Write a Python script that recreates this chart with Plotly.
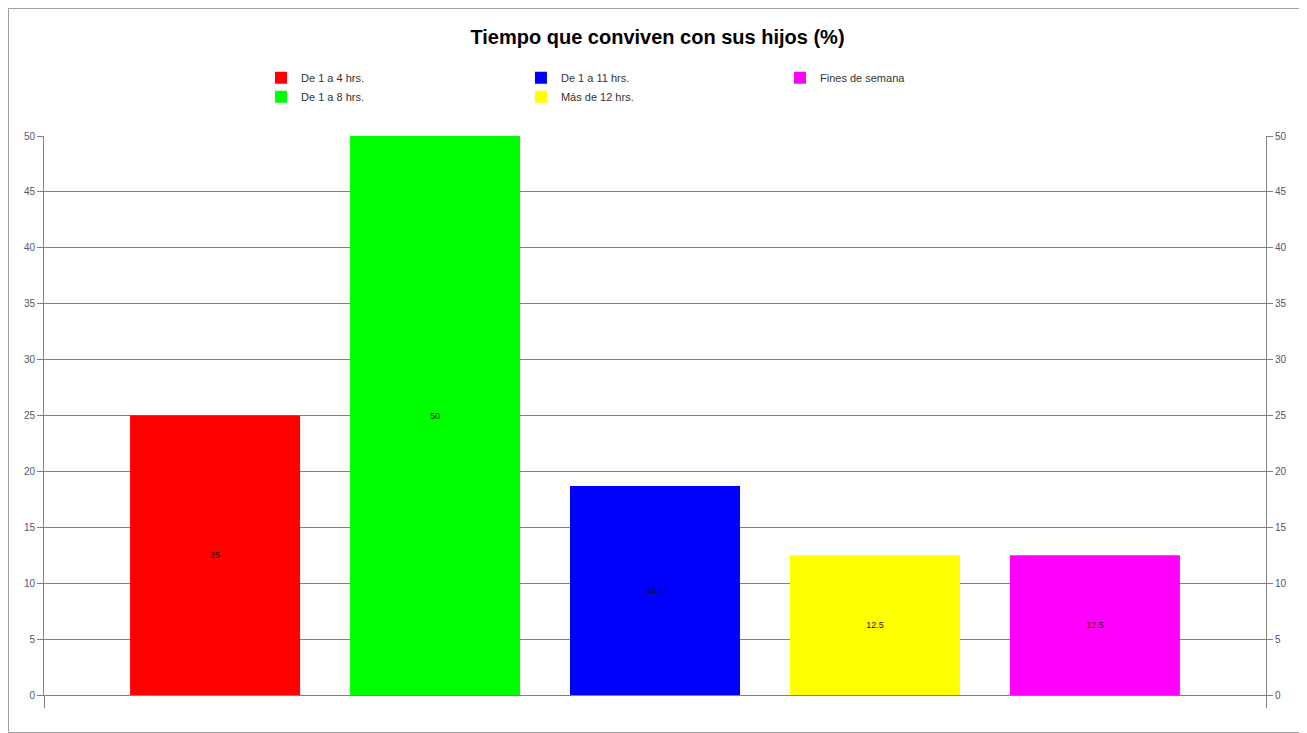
import plotly.graph_objects as go

# Datos
categorias = ["De 1 a 4 hrs.", "De 1 a 8 hrs.", "De 1 a 11 hrs.", "Más de 12 hrs.", "Fines de semana"]
valores = [25, 50, 18.7, 12.5, 12.5]
colores = ["#FF0000", "#00FF00", "#0000FF", "#FFFF00", "#FF00FF"]
leyendas = ["legend", "legend", "legend2", "legend2", "legend3"]
y_ticks = list(range(0, 51, 5))

fig = go.Figure()

for cat, val, col, leg in zip(categorias, valores, colores, leyendas):
    fig.add_trace(
        go.Bar(
            x=[""],
            y=[val],
            name=cat,
            marker=dict(color=col, line=dict(width=0)),
            text=[f"{val:g}"],
            textposition="inside",
            insidetextanchor="middle",
            textfont=dict(size=9, color="#111111", family="Liberation Sans"),
            legend=leg,
            hoverinfo="name+y",
        )
    )

# traza invisible para el eje derecho
fig.add_trace(
    go.Scatter(x=[""], y=[0], yaxis="y2", mode="markers",
               marker=dict(opacity=0), showlegend=False, hoverinfo="skip")
)

leg_style = dict(
    orientation="v",
    yanchor="top",
    y=1.13,
    xanchor="left",
    font=dict(size=11, color="#333333", family="Liberation Sans"),
    bgcolor="rgba(0,0,0,0)",
    tracegroupgap=0,
    itemwidth=30,
)

# la página tiene 8px de margen: la figura se ajusta a ello
fig.update_layout(
    width=1299,
    height=725,
    paper_bgcolor="white",
    plot_bgcolor="white",
    barmode="group",
    bargap=0.1,
    bargroupgap=0.227,
    margin=dict(l=36, r=41, t=128, b=38),
    title=dict(
        text="<b>Tiempo que conviven con sus hijos (%)</b>",
        x=0.5,
        xanchor="center",
        y=1 - 29 / 725,
        yanchor="middle",
        font=dict(size=20, color="black", family="Liberation Sans"),
    ),
    legend=dict(x=0.1776, **leg_style),
    legend2=dict(x=0.3903, **leg_style),
    legend3=dict(x=0.6023, **leg_style),
    xaxis=dict(
        showticklabels=False,
        showline=True,
        linecolor="#808080",
        linewidth=1,
        ticks="outside",
        tickson="boundaries",
        ticklen=12,
        tickcolor="#808080",
        showgrid=False,
    ),
    yaxis=dict(
        range=[0, 50],
        tickvals=y_ticks,
        showline=True,
        linecolor="#808080",
        linewidth=1,
        ticks="outside",
        ticklen=6,
        tickcolor="#808080",
        showgrid=True,
        gridcolor="#808080",
        gridwidth=1,
        zeroline=False,
        tickfont=dict(size=10, color="#555566", family="Liberation Sans"),
    ),
    yaxis2=dict(
        range=[0, 50],
        tickvals=y_ticks,
        overlaying="y",
        side="right",
        showline=True,
        linecolor="#808080",
        linewidth=1,
        ticks="outside",
        ticklen=6,
        tickcolor="#808080",
        showgrid=False,
        zeroline=False,
        tickfont=dict(size=10, color="#555566", family="Liberation Sans"),
    ),
    shapes=[
        dict(type="rect", xref="paper", yref="paper",
             x0=-35.5 / 1222, x1=1 + 40.5 / 1222, y0=-37.5 / 559, y1=1 + 127.5 / 559,
             line=dict(color="#a0a0a0", width=1), fillcolor="rgba(0,0,0,0)", layer="below"),
    ],
)

fig.write_html("out.html")
